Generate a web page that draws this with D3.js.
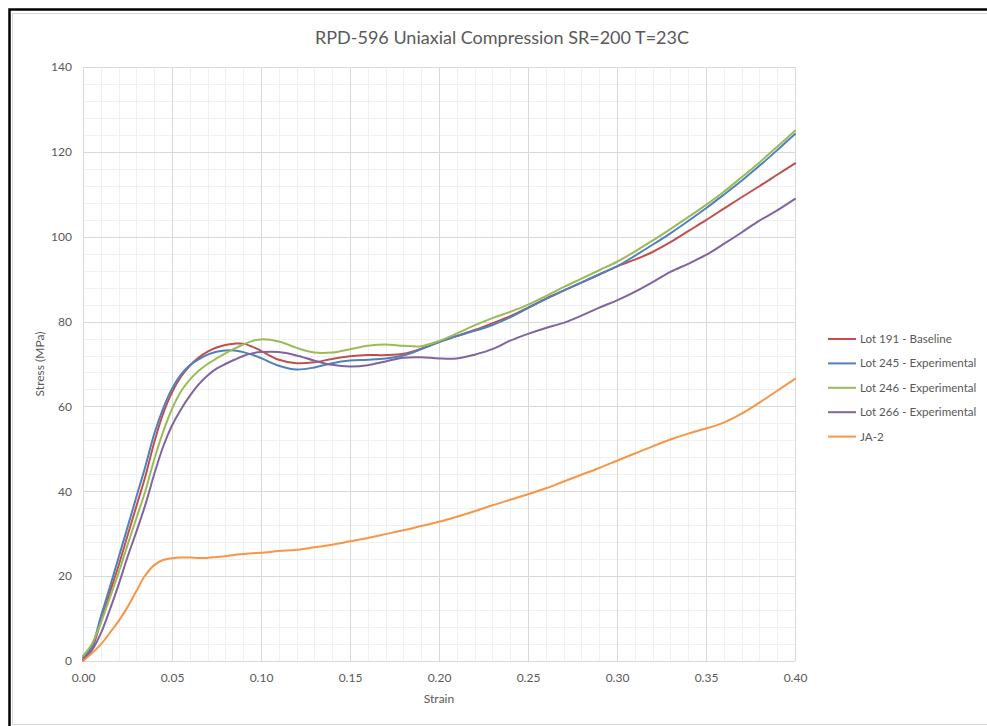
<!DOCTYPE html>
<html>
<head>
<meta charset="utf-8">
<script src="https://cdn.jsdelivr.net/npm/d3@7"></script>
<style>
  html, body { margin: 0; padding: 0; background: #fff; }
  svg { display: block; }
  text { font-family: Lato, "Open Sans", sans-serif; fill: #595959; }
</style>
</head>
<body>
<svg id="chart" width="987" height="726"></svg>
<script>
// ---- Data ----
const title = "RPD-596 Uniaxial Compression  SR=200 T=23C";
const xTicks = [0, 0.05, 0.10, 0.15, 0.20, 0.25, 0.30, 0.35, 0.40];
const yTicks = [0, 20, 40, 60, 80, 100, 120, 140];
const strain = [0, 0.005, 0.01, 0.015, 0.02, 0.025, 0.03, 0.035, 0.04, 0.045, 0.05,
  0.055, 0.06, 0.065, 0.07, 0.075, 0.08, 0.085, 0.09, 0.095, 0.10,
  0.11, 0.12, 0.13, 0.14, 0.15, 0.16, 0.17, 0.18, 0.19, 0.20,
  0.21, 0.22, 0.23, 0.24, 0.25, 0.26, 0.27, 0.28, 0.29, 0.30,
  0.31, 0.32, 0.33, 0.34, 0.35, 0.36, 0.37, 0.38, 0.39, 0.40];
const lot191 = [0.3, 3.0, 9.3, 16.0, 22.5, 29.5, 36.5, 43.5, 51.5, 58.3, 63.3,
  67.0, 69.6, 71.5, 72.9, 73.9, 74.5, 74.8, 74.8, 74.1, 73.1,
  71.0, 70.2, 70.4, 71.2, 71.8, 72.1, 72.1, 72.4, 73.6, 75.2,
  76.6, 78.0, 79.6, 81.3, 83.3, 85.4, 87.3, 89.2, 91.1, 93.0,
  94.6, 96.4, 98.7, 101.3, 103.9, 106.6, 109.3, 111.9, 114.6, 117.3];
const lot245 = [0.8, 3.5, 10.5, 17.3, 24.4, 31.5, 38.7, 45.8, 53.5, 59.5, 64.2,
  67.5, 69.7, 71.1, 72.2, 72.9, 73.2, 73.2, 72.8, 72.2, 71.4,
  69.6, 68.7, 69.2, 70.2, 70.8, 71.0, 71.3, 72.0, 73.5, 75.2,
  76.6, 77.8, 79.2, 81.0, 83.2, 85.3, 87.3, 89.2, 91.1, 93.0,
  95.5, 98.1, 100.8, 103.7, 106.7, 109.9, 113.2, 116.7, 120.4, 124.2];
const lot246 = [1.2, 4.0, 9.0, 14.8, 20.8, 27.3, 33.7, 40.0, 47.5, 54.0, 59.4,
  63.5, 66.3, 68.4, 70.0, 71.3, 72.5, 73.6, 74.6, 75.4, 75.8,
  75.3, 73.8, 72.7, 72.7, 73.5, 74.3, 74.6, 74.3, 74.2, 75.4,
  77.2, 79.1, 80.8, 82.3, 84.0, 86.0, 88.1, 90.1, 92.1, 94.1,
  96.5, 99.1, 101.8, 104.6, 107.5, 110.6, 114.0, 117.5, 121.2, 125.0];
const lot266 = [0, 2.5, 6.5, 12.0, 18.0, 24.5, 30.5, 36.8, 44.0, 50.5, 55.5,
  59.3, 62.5, 65.2, 67.3, 68.9, 70.0, 71.0, 71.9, 72.5, 72.8,
  72.8, 72.0, 70.8, 69.8, 69.4, 69.7, 70.6, 71.5, 71.6, 71.3,
  71.3, 72.2, 73.5, 75.5, 77.1, 78.5, 79.7, 81.4, 83.3, 85.0,
  87.0, 89.3, 91.7, 93.6, 95.7, 98.3, 101.0, 103.8, 106.2, 108.9];
const ja2 = [0, 1.8, 3.9, 6.6, 9.4, 12.7, 16.5, 20.2, 22.6, 23.8, 24.2,
  24.4, 24.4, 24.3, 24.3, 24.5, 24.7, 25.0, 25.2, 25.4, 25.5,
  25.9, 26.2, 26.8, 27.4, 28.2, 29.0, 29.9, 30.8, 31.8, 32.8,
  34.0, 35.3, 36.7, 38.0, 39.3, 40.7, 42.3, 43.9, 45.5, 47.2,
  48.9, 50.6, 52.2, 53.6, 54.8, 56.2, 58.3, 60.9, 63.7, 66.5];
const seriesNames = ["Lot 191 - Baseline", "Lot 245 - Experimental", "Lot 246 - Experimental", "Lot 266 - Experimental", "JA-2"];
const seriesValues = [lot191, lot245, lot246, lot266, ja2];
const seriesColors = ["#C0504D", "#4F81BD", "#9BBB59", "#8064A2", "#F79646"];

// ---- Layout ----
const svg = d3.select("#chart");
const plot = { left: 83, right: 795, top: 67, bottom: 661 };

// Frame
svg.append("rect").attr("x", 12.5).attr("y", 13.5).attr("width", 1000).attr("height", 711)
  .attr("fill", "none").attr("stroke", "#d9d9d9").attr("stroke-width", 1);
svg.append("path").attr("d", "M9.5,740 V9.5 H1000")
  .attr("fill", "none").attr("stroke", "#000").attr("stroke-width", 2.5);

const x = d3.scaleLinear().domain([0, 0.40]).range([plot.left, plot.right]);
const y = d3.scaleLinear().domain([0, 140]).range([plot.bottom, plot.top]);

// Minor grid
const xMinor = d3.range(0, 41).map(i => i / 100);
const yMinor = d3.range(0, 36).map(i => i * 4);
const g = svg.append("g");
g.selectAll(".xm").data(xMinor).enter().append("line")
  .attr("x1", d => Math.round(x(d)) + 0.5).attr("x2", d => Math.round(x(d)) + 0.5)
  .attr("y1", plot.top).attr("y2", plot.bottom).attr("stroke", "#f0f0f0");
g.selectAll(".ym").data(yMinor).enter().append("line")
  .attr("y1", d => Math.round(y(d)) + 0.5).attr("y2", d => Math.round(y(d)) + 0.5)
  .attr("x1", plot.left).attr("x2", plot.right).attr("stroke", "#f0f0f0");
// Major grid
g.selectAll(".xM").data(xTicks).enter().append("line")
  .attr("x1", d => Math.round(x(d)) + 0.5).attr("x2", d => Math.round(x(d)) + 0.5)
  .attr("y1", plot.top).attr("y2", plot.bottom).attr("stroke", "#d9d9d9");
g.selectAll(".yM").data(yTicks).enter().append("line")
  .attr("y1", d => Math.round(y(d)) + 0.5).attr("y2", d => Math.round(y(d)) + 0.5)
  .attr("x1", plot.left).attr("x2", plot.right).attr("stroke", "#d9d9d9");

// Axes labels via d3 axes
const xAxis = svg.append("g").attr("transform", `translate(0,${plot.bottom})`)
  .call(d3.axisBottom(x).tickValues(xTicks).tickFormat(d3.format(".2f")).tickSize(0).tickPadding(12));
const yAxis = svg.append("g").attr("transform", `translate(${plot.left},0)`)
  .call(d3.axisLeft(y).tickValues(yTicks).tickFormat(d3.format("d")).tickSize(0).tickPadding(11));
[xAxis, yAxis].forEach(a => {
  a.select(".domain").remove();
  a.selectAll("text").style("font-family", "Lato, 'Open Sans', sans-serif")
    .style("font-size", "12px").attr("fill", "#595959");
});

// Lines
const line = d3.line().x((d, i) => x(strain[i])).y(d => y(d)).curve(d3.curveCatmullRom.alpha(0.5));
seriesValues.forEach((vals, k) => {
  svg.append("path").datum(vals).attr("d", line)
    .attr("fill", "none").attr("stroke", seriesColors[k]).attr("stroke-width", 2)
    .attr("stroke-linejoin", "round").attr("stroke-linecap", "round");
});

// Title
svg.append("text").attr("x", 502).attr("y", 44).attr("text-anchor", "middle")
  .style("font-size", "18px").text(title);

// Axis titles
svg.append("text").attr("x", 439).attr("y", 703).attr("text-anchor", "middle")
  .style("font-size", "12px").text("Strain");
svg.append("text").attr("transform", "translate(44,364) rotate(-90)").attr("text-anchor", "middle")
  .style("font-size", "12px").text("Stress (MPa)");

// Legend
const leg = svg.append("g");
seriesNames.forEach((name, k) => {
  const yy = 339 + k * 24.4;
  leg.append("line").attr("x1", 828).attr("x2", 856).attr("y1", yy).attr("y2", yy)
    .attr("stroke", seriesColors[k]).attr("stroke-width", 2);
  leg.append("text").attr("x", 860).attr("y", yy + 4).style("font-size", "11.6px").text(name);
});
</script>
</body>
</html>
